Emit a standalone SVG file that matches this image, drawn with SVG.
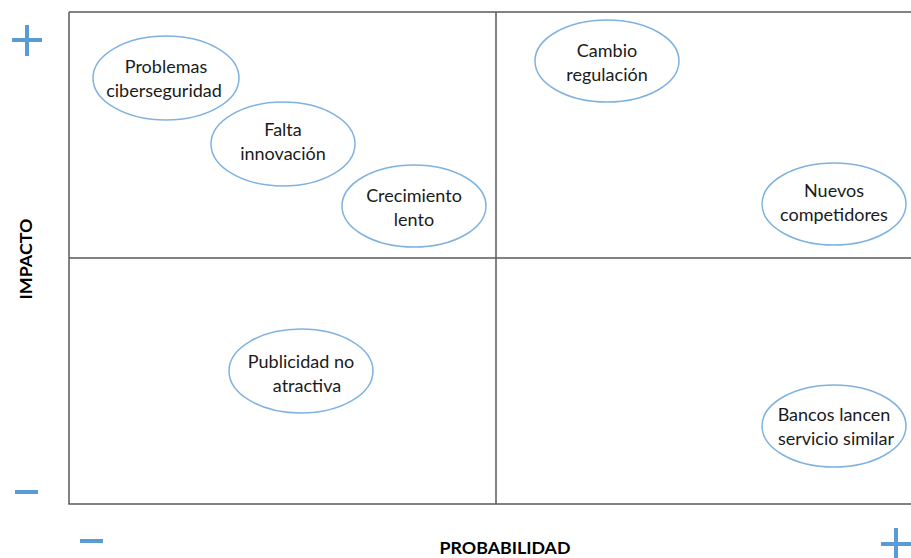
<svg xmlns="http://www.w3.org/2000/svg" width="911" height="558" viewBox="0 0 911 558">
<style>
.frame{fill:none;stroke:#595959;stroke-width:1.5}
.ell{fill:#fff;stroke:#7fb2e0;stroke-width:1.5}
.t{font-family:Lato,"Open Sans","Liberation Sans",sans-serif;font-size:18px;fill:#1a1a1a;text-anchor:middle}
.ax{font-family:Lato,"Open Sans","Liberation Sans",sans-serif;font-size:17px;font-weight:bold;fill:#000;text-anchor:middle}
.sign{stroke:#5b9bd5;stroke-width:4;stroke-linecap:butt;fill:none}
</style>
<rect width="911" height="558" fill="#fff"/>
<g id="grid">
<path class="frame" d="M69,12 H911 M69,12 V504 H911 M496,12 V504 M69,258 H911"/>
</g>
<g id="signs">
<path class="sign" d="M12,40 H42 M27,25 V56"/>
<path class="sign" d="M15,492 H38"/>
<path class="sign" d="M80,541 H103"/>
<path class="sign" d="M881,544 H911 M896,528 V558"/>
</g>
<g id="axes">
<text class="ax" x="505" y="554" textLength="131" lengthAdjust="spacingAndGlyphs">PROBABILIDAD</text>
<text class="ax" transform="translate(32,259) rotate(-90)" textLength="81" lengthAdjust="spacingAndGlyphs">IMPACTO</text>
</g>
<g id="n1"><ellipse class="ell" cx="166" cy="78" rx="73" ry="42"/><text class="t" x="166" y="73">Problemas</text><text class="t" x="164" y="97">ciberseguridad</text></g>
<g id="n2"><ellipse class="ell" cx="283" cy="144" rx="72" ry="42"/><text class="t" x="283" y="136">Falta</text><text class="t" x="283" y="160">innovación</text></g>
<g id="n3"><ellipse class="ell" cx="414" cy="206" rx="72" ry="41"/><text class="t" x="414" y="202">Crecimiento</text><text class="t" x="414" y="226">lento</text></g>
<g id="n4"><ellipse class="ell" cx="607" cy="61" rx="72" ry="41"/><text class="t" x="607" y="57">Cambio</text><text class="t" x="607" y="81">regulación</text></g>
<g id="n5"><ellipse class="ell" cx="834" cy="204" rx="72" ry="41"/><text class="t" x="834" y="197">Nuevos</text><text class="t" x="834" y="221">competidores</text></g>
<g id="n6"><ellipse class="ell" cx="301" cy="371" rx="72" ry="42"/><text class="t" x="301" y="368">Publicidad no</text><text class="t" x="307" y="392">atractiva</text></g>
<g id="n7"><ellipse class="ell" cx="834" cy="426" rx="72" ry="41"/><text class="t" x="834" y="421">Bancos lancen</text><text class="t" x="836" y="445">servicio similar</text></g>
</svg>
